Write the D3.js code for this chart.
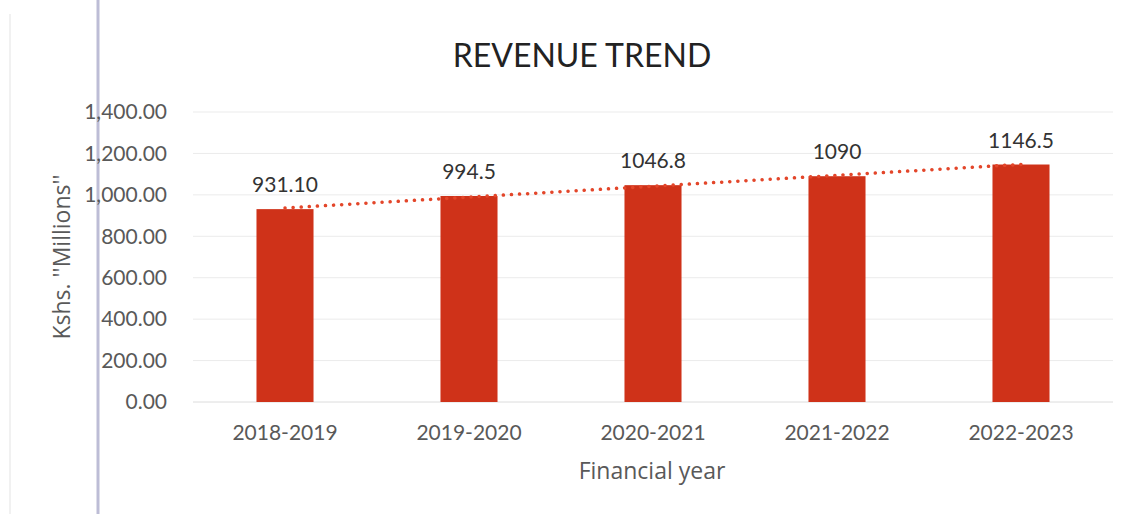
<!DOCTYPE html>
<html>
<head>
<meta charset="utf-8">
<script src="https://cdn.jsdelivr.net/npm/d3@7.9.0/dist/d3.min.js"></script>
<style>
  html, body { margin: 0; padding: 0; background: #fff; }
  svg { display: block; font-family: Lato, "Open Sans", sans-serif; }
</style>
</head>
<body>
<svg id="chart" width="1128" height="514"></svg>
<script>
// chart values
const years = ["2018-2019", "2019-2020", "2020-2021", "2021-2022", "2022-2023"];
const revenue = [931.1, 994.5, 1046.8, 1090, 1146.5];
const valueLabels = ["931.10", "994.5", "1046.8", "1090", "1146.5"];
const yTicks = [0, 200, 400, 600, 800, 1000, 1200, 1400];

const width = 1128, height = 514;
const margin = { top: 112, right: 15, bottom: 112, left: 193 };

const svg = d3.select("#chart");

// page edge / binding lines from the scan
svg.append("line")
  .attr("x1", 10).attr("x2", 10).attr("y1", 14).attr("y2", height)
  .attr("stroke", "#ececec").attr("stroke-width", 1.5);
svg.append("line")
  .attr("x1", 98).attr("x2", 98).attr("y1", 0).attr("y2", height)
  .attr("stroke", "#bdbdd6").attr("stroke-width", 3);

const x = d3.scaleBand()
  .domain(years)
  .range([margin.left, width - margin.right])
  .paddingInner(0.69)
  .paddingOuter(0.345);

const y = d3.scaleLinear()
  .domain([0, 1400])
  .range([height - margin.bottom, margin.top]);

// gridlines
svg.append("g")
  .selectAll("line")
  .data(yTicks)
  .join("line")
  .attr("x1", margin.left)
  .attr("x2", width - margin.right)
  .attr("y1", d => y(d))
  .attr("y2", d => y(d))
  .attr("stroke", d => d === 0 ? "#dcdcdc" : "#ebebeb")
  .attr("stroke-width", 1);

// y axis labels
const yAxis = svg.append("g")
  .attr("transform", `translate(${margin.left - 23},0)`)
  .call(d3.axisLeft(y).tickValues(yTicks).tickSize(0).tickFormat(d3.format(",.2f")));
yAxis.select(".domain").remove();
yAxis.selectAll("text")
  .attr("font-family", "Lato, sans-serif")
  .attr("font-size", 21)
  .attr("fill", "#595959");

// bars
svg.append("g")
  .selectAll("rect")
  .data(revenue)
  .join("rect")
  .attr("x", (d, i) => x(years[i]))
  .attr("width", x.bandwidth())
  .attr("y", d => y(d))
  .attr("height", d => y(0) - y(d))
  .attr("fill", "#cf3219");

// linear trendline (least squares over the bar values)
const n = revenue.length;
const xs = d3.range(n);
const mx = d3.mean(xs), my = d3.mean(revenue);
const slope = d3.sum(xs, i => (i - mx) * (revenue[i] - my)) / d3.sum(xs, i => (i - mx) ** 2);
const intercept = my - slope * mx;
const center = i => x(years[i]) + x.bandwidth() / 2;

svg.append("line")
  .attr("x1", center(0))
  .attr("x2", center(n - 1))
  .attr("y1", y(intercept))
  .attr("y2", y(intercept + slope * (n - 1)))
  .attr("stroke", "#e3462a")
  .attr("stroke-width", 3.5)
  .attr("stroke-linecap", "round")
  .attr("stroke-dasharray", "0.1,8");

// data labels
svg.append("g")
  .selectAll("text")
  .data(revenue)
  .join("text")
  .attr("x", (d, i) => center(i))
  .attr("y", d => y(d) - 17)
  .attr("text-anchor", "middle")
  .attr("font-size", 21)
  .attr("fill", "#333")
  .text((d, i) => valueLabels[i]);

// x category labels
svg.append("g")
  .selectAll("text")
  .data(years)
  .join("text")
  .attr("x", d => x(d) + x.bandwidth() / 2)
  .attr("y", 440)
  .attr("text-anchor", "middle")
  .attr("font-size", 21)
  .attr("fill", "#595959")
  .text(d => d);

// title
svg.append("text")
  .attr("x", 582)
  .attr("y", 67)
  .attr("text-anchor", "middle")
  .attr("font-size", 32)
  .attr("fill", "#222")
  .text("REVENUE TREND");

// axis titles
svg.append("text")
  .attr("x", 652)
  .attr("y", 479)
  .attr("text-anchor", "middle")
  .attr("font-family", "'Open Sans', sans-serif")
  .attr("font-size", 23)
  .attr("fill", "#595959")
  .text("Financial year");

svg.append("text")
  .attr("transform", "translate(70,257) rotate(-90)")
  .attr("text-anchor", "middle")
  .attr("font-family", "'Open Sans', sans-serif")
  .attr("font-size", 23)
  .attr("fill", "#595959")
  .text("Kshs. ''Millions''");
</script>
</body>
</html>
